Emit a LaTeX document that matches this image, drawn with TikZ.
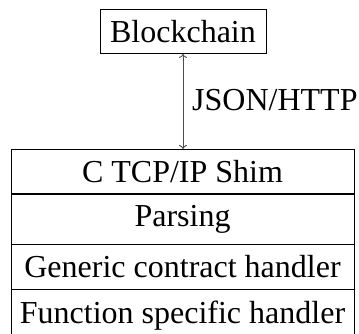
\documentclass[tikz,border=0pt]{standalone}
\usepackage{fontspec}
\setmainfont{Liberation Serif}
\usetikzlibrary{arrows.meta}
\begin{document}
\begin{tikzpicture}[x=1pt,y=1pt,
  every node/.style={font=\fontsize{32}{38}\selectfont},
  box/.style={draw=black,line width=0.8pt,inner xsep=8pt,inner ysep=10.8pt},
  layer/.style={box,minimum width=343pt,anchor=north},
  link/.style={draw=black!70,line width=0.9pt,{To[length=4pt,width=8pt]}-{To[length=4pt,width=8pt]}}]
\useasboundingbox (0,0) rectangle (359,334);
\node[box,anchor=north,minimum width=166pt] (bc) at (183,325) {Blockchain};
\node[layer] (shim) at (182.5,185) {C TCP/IP Shim};
\node[layer] (pars) at (shim.south) {Parsing};
\node[layer] (gen) at (pars.south) {Generic contract handler};
\node[layer] (fun) at (gen.south) {Function specific handler};
\draw[link] (bc.south) -- (bc.south |- shim.north);
\node[anchor=base west,inner sep=0pt] (lbl) at (192,223) {JSON/HTTP};
\end{tikzpicture}
\end{document}
